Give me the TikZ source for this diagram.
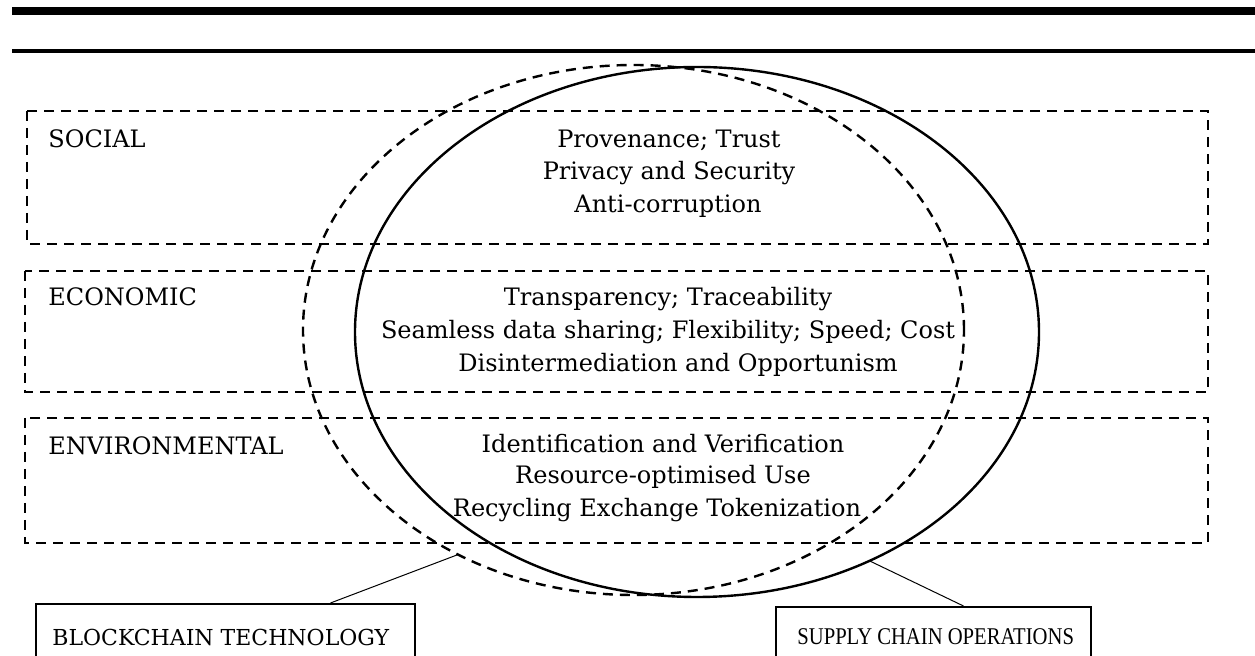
\documentclass[tikz,border=0pt]{standalone}
\usepackage{fontspec}
\setmainfont{DejaVu Serif}
\newfontfamily\tagfont[FakeStretch=0.86]{Liberation Serif}
\usetikzlibrary{shapes.geometric,positioning,calc}

\begin{document}
\begin{tikzpicture}[x=0.5pt,y=-0.5pt,
    band/.style={draw,dashed,line width=1.2pt,dash pattern=on 5pt off 3.5pt},
    bandlabel/.style={anchor=west,inner sep=0pt,font=\fontsize{12}{14}\selectfont},
    item/.style={inner sep=0pt,font=\fontsize{12}{14}\selectfont},
    ring/.style={ellipse,draw,line width=1.2pt,inner sep=0pt,outer sep=0pt},
    tag/.style={draw,line width=1pt,minimum height=60pt,inner sep=0pt,anchor=north west},
    tagtext/.style={anchor=west,inner sep=0pt}]
  \useasboundingbox (0,0) rectangle (1255,656);
  \clip (0,0) rectangle (1255,656);
  % rules at the top
  \draw[line width=4pt] (12,11) -- (1255,11);
  \draw[line width=2pt] (12,51) -- (1255,51);
  % the three bands
  \draw[band] (27,111) rectangle (1208,244);
  \draw[band] (25,271) rectangle (1208,392);
  \draw[band] (25,418) rectangle (1208,543);
  \node[bandlabel] (soc) at (48,139) {SOCIAL};
  \node[bandlabel] (eco) at (48,297) {ECONOMIC};
  \node[bandlabel] (env) at (48,446) {ENVIRONMENTAL};
  % the two ellipses
  \node[ring,dashed,dash pattern=on 5pt off 3.5pt,minimum width=330.5pt,minimum height=265pt] (bc) at (633.5,330) {};
  \node[ring,minimum width=342pt,minimum height=265pt] (sc) at (697,332) {};
  % items
  \node[item] (s1) at (669,140) {Provenance; Trust};
  \node[item] (s2) at (669,173) {Privacy and Security};
  \node[item] (s3) at (668,206) {Anti-corruption};
  \node[item] (e1) at (668,299) {Transparency; Traceability};
  \node[item] (e2) at (668,332) {Seamless data sharing; Flexibility; Speed; Cost};
  \node[item] (e3) at (678,365) {Disintermediation and Opportunism};
  \node[item] (v1) at (663,444) {Identification and Verification};
  \node[item] (v2) at (663,477) {Resource-optimised Use};
  \node[item] (v3) at (657,510) {Recycling Exchange Tokenization};
  % boxes below
  \node[tag,minimum width=189.5pt] (bct) at (35,603) {};
  \node[tagtext,font=\fontsize{11}{13}\selectfont] (bctx) at (52,637) {BLOCKCHAIN TECHNOLOGY};
  \node[tag,minimum width=157.5pt] (sco) at (775,606) {};
  \node[tagtext,font=\tagfont\fontsize{12}{14}\selectfont] (scox) at (797,637) {SUPPLY CHAIN OPERATIONS};
  \draw[line width=0.5pt] (bc.232) -- ($(bct.north)+(105,0)$);
  \draw[line width=0.5pt] (sc.307) -- ($(sco.north)+(30,0)$);
\end{tikzpicture}
\end{document}
